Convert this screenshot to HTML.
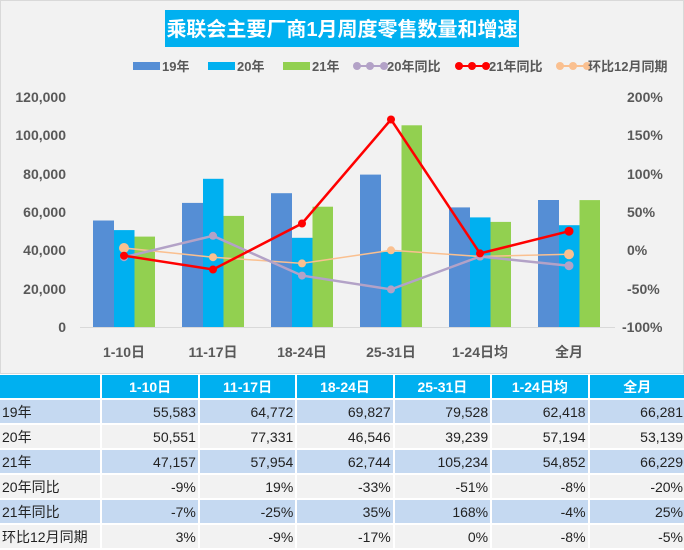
<!DOCTYPE html>
<html><head><meta charset="utf-8"><style>
body{margin:0;width:684px;height:549px;background:#fff;overflow:hidden;font-family:"Liberation Sans","Noto Sans CJK SC",sans-serif}
#chart{position:absolute;left:0;top:0;width:682px;height:372px;background:#f2f2f2;border:1px solid #d9d9d9}
table{position:absolute;left:-2px;top:373px;border-collapse:separate;border-spacing:2px 2px;table-layout:fixed;width:689px}
td{height:23px;padding:0 2px;font-size:14px;color:#222;text-align:right;overflow:hidden;white-space:nowrap}
td:first-child{text-align:left}
tr.h td{background:#00b0f0;color:#fff;font-weight:bold;text-align:center}
tr.b td{background:#c5d9f1}
tr.g td{background:#f2f2f2}
</style></head><body>
<div id="chart">
<svg width="684" height="374" xmlns="http://www.w3.org/2000/svg" style="position:absolute;left:-1px;top:-1px">
<rect x="165" y="10" width="354" height="37" fill="#00b0f0"/>
<text x="342" y="36" text-anchor="middle" font-size="20" font-weight="bold" fill="#fff">乘联会主要厂商1月周度零售数量和增速</text>
<g font-size="13" font-weight="bold" fill="#595959">
<rect x="133" y="62" width="27" height="8" fill="#558ed5"/><text x="162" y="71">19年</text>
<rect x="208" y="62" width="27" height="8" fill="#00b0f0"/><text x="237" y="71">20年</text>
<rect x="283" y="62" width="27" height="8" fill="#92d050"/><text x="312" y="71">21年</text>
<line x1="357" y1="66" x2="384" y2="66" stroke="#b3a2c7" stroke-width="2"/><circle cx="357" cy="66" r="4" fill="#b3a2c7"/><circle cx="370" cy="66" r="4" fill="#b3a2c7"/><circle cx="384" cy="66" r="4" fill="#b3a2c7"/><text x="387" y="71">20年同比</text>
<line x1="459" y1="66" x2="486" y2="66" stroke="#f00" stroke-width="2"/><circle cx="459" cy="66" r="4" fill="#f00"/><circle cx="472" cy="66" r="4" fill="#f00"/><circle cx="486" cy="66" r="4" fill="#f00"/><text x="489" y="71">21年同比</text>
<line x1="560" y1="66" x2="587" y2="66" stroke="#fac090" stroke-width="2"/><circle cx="560" cy="66" r="4" fill="#fac090"/><circle cx="573" cy="66" r="4" fill="#fac090"/><circle cx="587" cy="66" r="4" fill="#fac090"/><text x="588" y="71">环比12月同期</text>
</g>
<g font-size="14" font-weight="bold" fill="#595959" text-anchor="end">
<text x="66" y="102">120,000</text><text x="66" y="140">100,000</text><text x="66" y="179">80,000</text><text x="66" y="217">60,000</text><text x="66" y="255">40,000</text><text x="66" y="294">20,000</text><text x="66" y="332">0</text>
</g>
<g font-size="14" font-weight="bold" fill="#595959">
<text x="627" y="102">200%</text><text x="627" y="140">150%</text><text x="627" y="179">100%</text><text x="627" y="217">50%</text><text x="627" y="255">0%</text><text x="627" y="294">-50%</text><text x="622" y="332">-100%</text>
</g>
<line x1="80" y1="327.5" x2="615" y2="327.5" stroke="#d9d9d9"/>
<g>
<rect x="93" y="220.5" width="21" height="106.5" fill="#558ed5"/><rect x="114" y="230.1" width="20.5" height="96.9" fill="#00b0f0"/><rect x="134.5" y="236.6" width="20.5" height="90.4" fill="#92d050"/>
<rect x="182" y="202.9" width="21" height="124.1" fill="#558ed5"/><rect x="203" y="178.8" width="20.5" height="148.2" fill="#00b0f0"/><rect x="223.5" y="215.9" width="20.5" height="111.1" fill="#92d050"/>
<rect x="271" y="193.2" width="21" height="133.8" fill="#558ed5"/><rect x="292" y="237.8" width="20.5" height="89.2" fill="#00b0f0"/><rect x="312.5" y="206.7" width="20.5" height="120.3" fill="#92d050"/>
<rect x="360" y="174.6" width="21" height="152.4" fill="#558ed5"/><rect x="381" y="251.8" width="20.5" height="75.2" fill="#00b0f0"/><rect x="401.5" y="125.3" width="20.5" height="201.7" fill="#92d050"/>
<rect x="449" y="207.4" width="21" height="119.6" fill="#558ed5"/><rect x="470" y="217.4" width="20.5" height="109.6" fill="#00b0f0"/><rect x="490.5" y="221.9" width="20.5" height="105.1" fill="#92d050"/>
<rect x="538" y="200" width="21" height="127" fill="#558ed5"/><rect x="559" y="225.2" width="20.5" height="101.8" fill="#00b0f0"/><rect x="579.5" y="200.1" width="20.5" height="126.9" fill="#92d050"/>
</g>
<g fill="#fac090"><polyline points="124,248 213,257.2 302,263.4 391,250.3 480,256.5 569,254.2" fill="none" stroke="#fac090" stroke-width="1.5"/>
<circle cx="124" cy="248" r="5"/><circle cx="213" cy="257.2" r="4"/><circle cx="302" cy="263.4" r="4"/><circle cx="391" cy="250.3" r="4"/><circle cx="480" cy="256.5" r="4"/><circle cx="569" cy="254.2" r="5"/></g>
<g fill="#b3a2c7"><polyline points="124,257.2 213,235.8 302,275.6 391,289.4 480,256.5 569,265.7" fill="none" stroke="#b3a2c7" stroke-width="2.5"/>
<circle cx="124" cy="257.2" r="4"/><circle cx="213" cy="235.8" r="4"/><circle cx="302" cy="275.6" r="4"/><circle cx="391" cy="289.4" r="4"/><circle cx="480" cy="256.5" r="4"/><circle cx="569" cy="265.7" r="4.5"/></g>
<g fill="#f00"><polyline points="124,255.7 213,269.5 302,223.5 391,119.5 480,253.4 569,231.2" fill="none" stroke="#f00" stroke-width="2.5"/>
<circle cx="124" cy="255.7" r="4"/><circle cx="213" cy="269.5" r="4"/><circle cx="302" cy="223.5" r="4"/><circle cx="391" cy="119.5" r="4"/><circle cx="480" cy="253.4" r="4"/><circle cx="569" cy="231.2" r="4.5"/></g>
<g font-size="14" font-weight="bold" fill="#595959" text-anchor="middle">
<text x="124" y="357">1-10日</text><text x="213" y="357">11-17日</text><text x="302" y="357">18-24日</text><text x="391" y="357">25-31日</text><text x="480" y="357">1-24日均</text><text x="569" y="357">全月</text>
</g>
</svg>
</div>
<table>
<colgroup><col style="width:100px"><col style="width:95px"><col style="width:95px"><col style="width:95px"><col style="width:95px"><col style="width:95px"><col style="width:95px"></colgroup>
<tr class="h"><td></td><td>1-10日</td><td>11-17日</td><td>18-24日</td><td>25-31日</td><td>1-24日均</td><td>全月</td></tr>
<tr class="b"><td>19年</td><td>55,583</td><td>64,772</td><td>69,827</td><td>79,528</td><td>62,418</td><td>66,281</td></tr>
<tr class="g"><td>20年</td><td>50,551</td><td>77,331</td><td>46,546</td><td>39,239</td><td>57,194</td><td>53,139</td></tr>
<tr class="b"><td>21年</td><td>47,157</td><td>57,954</td><td>62,744</td><td>105,234</td><td>54,852</td><td>66,229</td></tr>
<tr class="g"><td>20年同比</td><td>-9%</td><td>19%</td><td>-33%</td><td>-51%</td><td>-8%</td><td>-20%</td></tr>
<tr class="b"><td>21年同比</td><td>-7%</td><td>-25%</td><td>35%</td><td>168%</td><td>-4%</td><td>25%</td></tr>
<tr class="g"><td>环比12月同期</td><td>3%</td><td>-9%</td><td>-17%</td><td>0%</td><td>-8%</td><td>-5%</td></tr>
</table>
</body></html>
